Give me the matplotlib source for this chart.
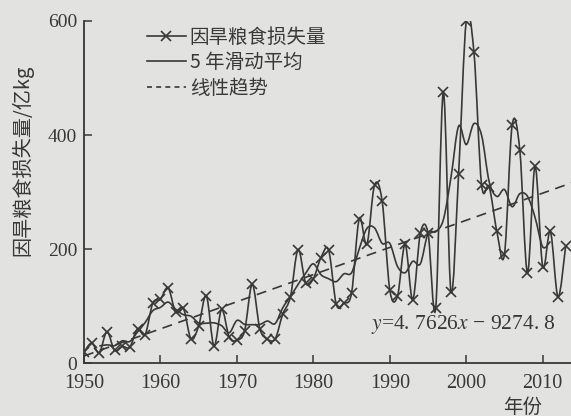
import numpy as np
import matplotlib
matplotlib.use("Agg")
import matplotlib.pyplot as plt
from matplotlib.path import Path
from matplotlib.patches import PathPatch
from matplotlib.lines import Line2D

plt.rcParams['font.family'] = ['Noto Sans CJK SC', 'DejaVu Sans']
plt.rcParams['mathtext.fontset'] = 'stix'

# 因旱粮食损失量 (亿kg), 1950-2013
years = np.arange(1950, 2014)
loss = [19, 35, 18, 55, 22, 29, 28, 60, 50, 105,
        112, 132, 89, 96, 42, 65, 118, 30, 94, 45,
        40, 56, 138, 60, 42, 42, 86, 116, 199, 140,
        148, 185, 198, 103, 105, 123, 253, 208, 312, 284,
        128, 117, 208, 111, 228, 228, 96, 475, 125, 332,
        600, 546, 313, 309, 231, 191, 417, 374, 158, 345,
        169, 231, 116, 205]

# 线性趋势 y = 4.7626x - 9274.8
slope, intercept = 4.7626, -9274.8

x_ticks = [1950, 1960, 1970, 1980, 1990, 2000, 2010]
y_ticks = [0, 200, 400, 600]

ink = '#383838'
paper = '#e2e2e0'


def smooth_path(x, y):
    # 平滑折线: 相邻点之间用三次贝塞尔曲线连接
    x = np.asarray(x, float)
    y = np.asarray(y, float)
    n = len(x)
    verts = [(x[0], y[0])]
    codes = [Path.MOVETO]
    for i in range(n - 1):
        a = max(i - 1, 0)
        d = min(i + 2, n - 1)
        c1 = (x[i] + (x[i + 1] - x[a]) / 6, y[i] + (y[i + 1] - y[a]) / 6)
        c2 = (x[i + 1] - (x[d] - x[i]) / 6, y[i + 1] - (y[d] - y[i]) / 6)
        verts += [c1, c2, (x[i + 1], y[i + 1])]
        codes += [Path.CURVE4] * 3
    return Path(verts, codes)


loss_arr = np.array(loss, float)
ma = np.convolve(loss_arr, np.ones(5) / 5, mode='valid')
ma_years = years[2:-2]

fig = plt.figure(figsize=(5.71, 4.16), dpi=100, facecolor=paper)
ax = fig.add_axes([84 / 571, 53 / 416, 1 - 84 / 571, 342 / 416])
ax.set_facecolor(paper)

ax.add_patch(PathPatch(smooth_path(years, loss), fill=False, ec=ink, lw=1.2))
ax.plot(years, loss, ls='none', marker='x', ms=7, mew=1.2, color=ink)
ax.add_patch(PathPatch(smooth_path(ma_years, ma), fill=False, ec=ink, lw=1.2))

trend_x = np.array([1950, 2014])
ax.plot(trend_x, slope * trend_x + intercept, ls=(0, (6, 4)), lw=1.2, color=ink)

ax.set_xlim(1950, 2013.7)
ax.set_ylim(0, 600)
ax.set_xticks(x_ticks)
ax.set_yticks(y_ticks)
ax.tick_params(direction='in', length=6, width=1.1, color=ink,
               labelcolor=ink, labelsize=14.5, pad=5)
ax.tick_params(axis='x', pad=8)
ax.tick_params(axis='y', labelsize=14)
for lab in ax.get_xticklabels() + ax.get_yticklabels():
    lab.set_family('Liberation Serif')
for side in ('top', 'right'):
    ax.spines[side].set_visible(False)
for side in ('left', 'bottom'):
    ax.spines[side].set_color(ink)
    ax.spines[side].set_linewidth(1.3)

handles = [
    Line2D([], [], color=ink, lw=1.2, marker='x', ms=7, mew=1.2),
    Line2D([], [], color=ink, lw=1.2),
    Line2D([], [], color=ink, lw=1.2, ls=(0, (3, 2.5))),
]
labels = ['因旱粮食损失量', '5 年滑动平均', '线性趋势']
leg = fig.legend(handles, labels, loc='upper left',
                 bbox_to_anchor=(147 / 571, 1 - 27 / 416),
                 bbox_transform=fig.transFigure, frameon=False,
                 fontsize=14, handlelength=2.0, handletextpad=0.2,
                 labelspacing=0.22, borderpad=0, borderaxespad=0)
for t in leg.get_texts():
    t.set_color(ink)

fig.text(22 / 571, 1 - 160 / 416, '因旱粮食损失量/亿kg', rotation=90,
         ha='center', va='center', fontsize=14.5, color=ink)
fig.text(523 / 571, 1 - 407 / 416, '年份', ha='center', va='center',
         fontsize=14, color=ink)
fig.text(371 / 571, 1 - 325 / 416, '$y$=4. 7626$x$ − 9274. 8', ha='left',
         va='center', fontsize=15.5, color=ink, family='Liberation Serif')

fig.savefig('out.png', dpi=100, facecolor=paper)
